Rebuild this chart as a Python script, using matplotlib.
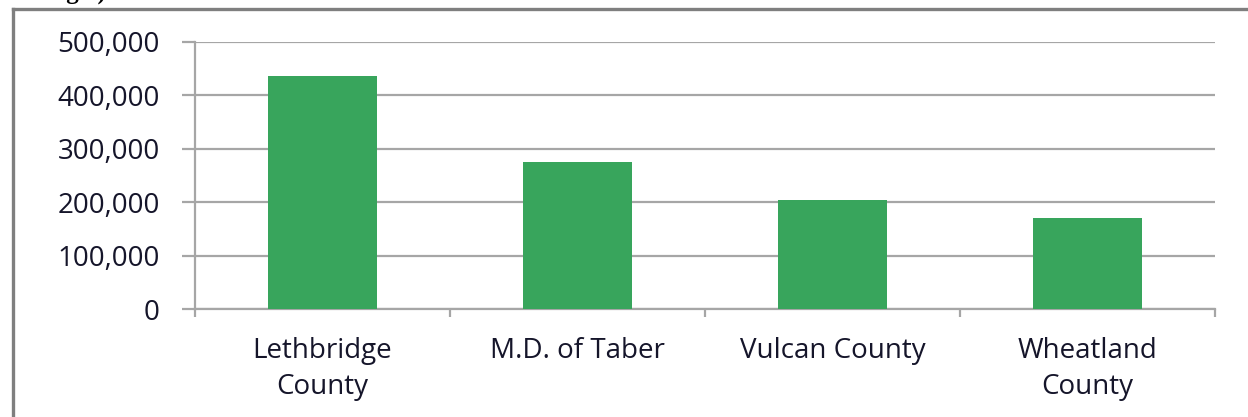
import matplotlib.pyplot as plt
from matplotlib.lines import Line2D

counties = ["Lethbridge\nCounty", "M.D. of Taber", "Vulcan County", "Wheatland\nCounty"]
values = [436000, 275000, 204000, 170000]
yticks = [0, 100000, 200000, 300000, 400000, 500000]

GREEN = "#38a55c"
GRID = "#a6a6a6"
TEXT = "#15152a"

plt.rcParams["font.family"] = ["Open Sans", "DejaVu Sans"]

fig = plt.figure(figsize=(12.48, 4.17), dpi=100)
ax = fig.add_axes([195 / 1248, 1 - 309 / 417, (1215 - 195) / 1248, (309 - 42) / 417])

x = list(range(len(counties)))
ax.bar(x, values, width=0.43, color=GREEN, zorder=3)
ax.set_xlim(-0.5, len(counties) - 0.5)
ax.set_ylim(0, 500000)

ax.set_yticks(yticks)
ax.set_yticklabels([f"{v:,}" for v in yticks], fontsize=20, color=TEXT)
ax.yaxis.grid(True, color=GRID, linewidth=1.6, zorder=0)
ax.tick_params(axis="y", length=9.5, width=1.6, color=GRID, pad=16)

ax.set_xticks(x)
ax.set_xticklabels(counties, fontsize=20, color=TEXT, linespacing=1.41)
ax.set_xticks([i - 0.5 for i in range(len(counties) + 1)], minor=True)
ax.tick_params(axis="x", which="major", length=0, pad=20)
ax.tick_params(axis="x", which="minor", length=6, width=1.6, color=GRID)

for side in ["top", "right"]:
    ax.spines[side].set_visible(False)
for side in ["left", "bottom"]:
    ax.spines[side].set_color(GRID)
    ax.spines[side].set_linewidth(1.6)

# outer frame of the embedded chart (only top and left edges visible)
fx, fy = 12.5 / 1248, 1 - 8.5 / 417
fig.add_artist(Line2D([fx, fx], [0, fy], transform=fig.transFigure, color="#7f7f7f", linewidth=2.4))
fig.add_artist(Line2D([fx, 1], [fy, fy], transform=fig.transFigure, color="#7f7f7f", linewidth=2.4))

# caption cut off at the top of the crop
fig.text(106 / 1248, 1 + 1 / 417, "Fig 3)", fontsize=18, fontweight="bold",
         family=["Liberation Serif", "DejaVu Serif"], va="baseline", ha="right", color="black")

fig.savefig("out.png", dpi=100)
